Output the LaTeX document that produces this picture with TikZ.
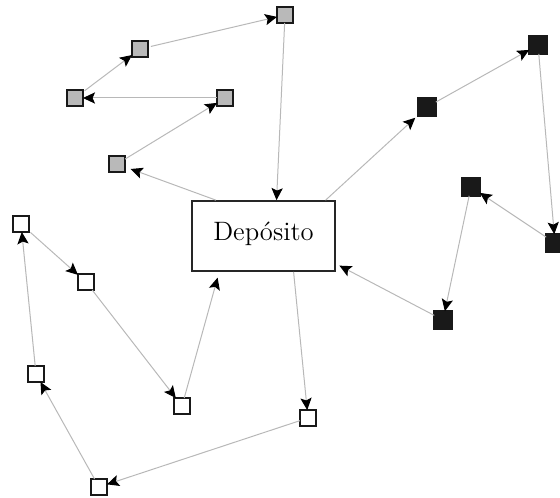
\documentclass[tikz,border=0pt]{standalone}
\usetikzlibrary{arrows.meta}
\begin{document}
\begin{tikzpicture}[x=0.5pt,y=-0.5pt,
  sq/.style={draw=black!90,line width=0.75pt,minimum size=8pt,inner sep=0pt,outer sep=0pt},
  gsq/.style={sq,fill=gray!55},
  bsq/.style={sq,fill=black!90,minimum size=8.8pt},
  wsq/.style={sq,fill=white},
  depot/.style={draw=black!85,line width=0.85pt,minimum width=71.5pt,minimum height=35pt,inner sep=0pt,
    font=\fontsize{13.3}{15}\selectfont,text height=9.5pt,text depth=5.5pt},
  conn/.style={draw=black!28,line width=0.5pt,-{Stealth[length=6pt,width=5.6pt,inset=1.2pt,color=black]}}]
\useasboundingbox (0,0) rectangle (560,497);
\node[depot] (dep) at (263.5,236) {Dep\'osito};
% gray route
\node[gsq] (g1) at (285,15) {};
\node[gsq] (g2) at (140,49) {};
\node[gsq] (g3) at (75,98) {};
\node[gsq] (g4) at (225,98) {};
\node[gsq] (g5) at (117,164) {};
% black route
\node[bsq] (b1) at (427,107) {};
\node[bsq] (b2) at (538,45) {};
\node[bsq] (b3) at (555,243) {};
\node[bsq] (b4) at (471,187) {};
\node[bsq] (b5) at (443,320) {};
% white route
\node[wsq] (w1) at (21,224) {};
\node[wsq] (w2) at (86,282) {};
\node[wsq] (w3) at (182,406) {};
\node[wsq] (w4) at (36,374) {};
\node[wsq] (w5) at (308,418) {};
\node[wsq] (w6) at (99,487) {};
% gray connectors
\draw[conn,shorten >=3pt] (dep.143) -- (g5);
\draw[conn] (g5) -- (g4);
\draw[conn] (g4) -- (g3);
\draw[conn,shorten <=1pt] (g3) -- (g2);
\draw[conn,shorten <=1.5pt] (g2) -- (g1);
\draw[conn] (g1) -- (dep.70);
% black connectors
\draw[conn,shorten >=2pt] (dep.30) -- (b1);
\draw[conn] (b1) -- (b2);
\draw[conn] (b2) -- (b3);
\draw[conn] (b3) -- (b4);
\draw[conn] (b4) -- (b5);
\draw[conn,shorten >=2pt] (b5) -- (dep.-21);
% white connectors
\draw[conn] (dep.-50) -- (w5);
\draw[conn] (w5) -- (w6);
\draw[conn] (w6) -- (w4);
\draw[conn] (w4) -- (w1);
\draw[conn,shorten <=1pt] (w1) -- (w2);
\draw[conn] (w2) -- (w3);
\draw[conn,shorten >=3pt] (w3) -- (dep.219);
\end{tikzpicture}
\end{document}
